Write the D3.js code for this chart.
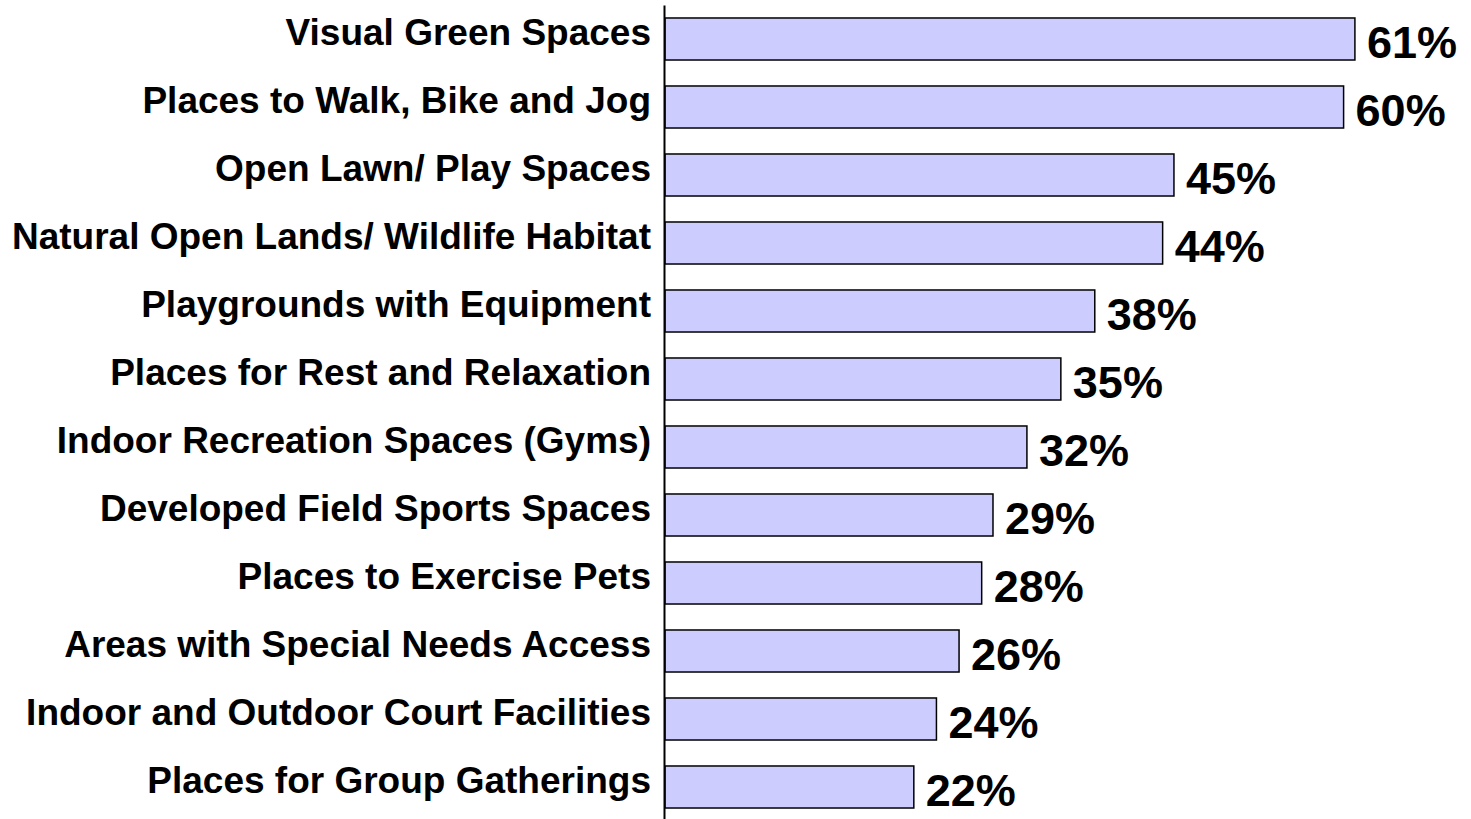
<!DOCTYPE html>
<html><head><meta charset="utf-8">
<script src="https://cdn.jsdelivr.net/npm/d3@7"></script>
<style>body{margin:0;background:#fff}svg{display:block}</style>
</head><body>
<script>
const categories = ["Visual Green Spaces","Places to Walk, Bike and Jog","Open Lawn/ Play Spaces","Natural Open Lands/ Wildlife Habitat","Playgrounds with Equipment","Places for Rest and Relaxation","Indoor Recreation Spaces (Gyms)","Developed Field Sports Spaces","Places to Exercise Pets","Areas with Special Needs Access","Indoor and Outdoor Court Facilities","Places for Group Gatherings"];
const values = [61,60,45,44,38,35,32,29,28,26,24,22];

const W = 1471, H = 819;
const svg = d3.select("body").append("svg").attr("width", W).attr("height", H);
const x = d3.scaleLinear().domain([0, 100]).range([665, 1796]);
const y = d3.scaleBand().domain(categories).range([5, 821]).paddingInner(0.382).paddingOuter(0.191);

const data = categories.map((c, i) => ({c, v: values[i]}));

svg.selectAll("rect.bar").data(data).join("rect")
  .attr("class", "bar")
  .attr("x", x(0))
  .attr("y", d => y(d.c))
  .attr("width", d => x(d.v) - x(0))
  .attr("height", y.bandwidth())
  .attr("fill", "#CCCCFF")
  .attr("stroke", "#000")
  .attr("stroke-width", 1.5);

const ax = svg.append("g").attr("transform", "translate(664,0)")
  .call(d3.axisLeft(y).tickSize(0).tickSizeOuter(0).tickPadding(13));
ax.select(".domain").attr("stroke", "#000").attr("stroke-width", 2);
ax.selectAll("text")
  .attr("font-family", "Liberation Sans, Arial, sans-serif")
  .attr("font-weight", "bold")
  .attr("font-size", 37)
  .attr("fill", "#000")
  .attr("dy", "0.16em");

svg.selectAll("text.val").data(data).join("text")
  .attr("class", "val")
  .attr("x", d => x(d.v) + 12)
  .attr("y", d => y(d.c) + y.bandwidth() / 2)
  .attr("dy", "0.42em")
  .attr("font-family", "Liberation Sans, Arial, sans-serif")
  .attr("font-weight", "bold")
  .attr("font-size", 45)
  .attr("fill", "#000")
  .text(d => d.v + "%");
</script>
</body></html>
